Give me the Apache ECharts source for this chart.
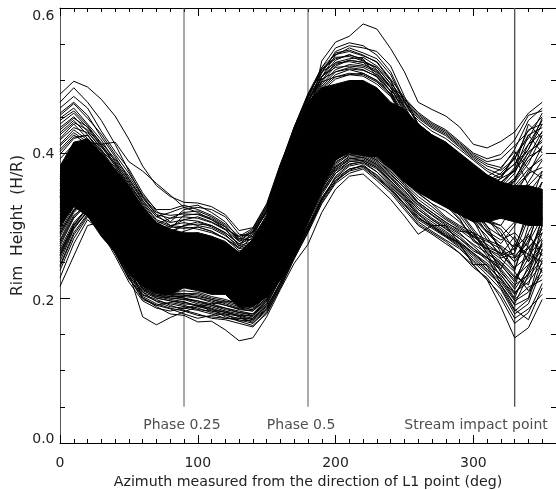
<!DOCTYPE html>
<html><head><meta charset="utf-8">
<style>html,body{margin:0;padding:0;background:#fff;overflow:hidden}#c{width:556px;height:490px}</style>
<script src="https://cdn.jsdelivr.net/npm/echarts@6/dist/echarts.min.js"></script>
</head><body><div id="c"></div>
<script>
// Azimuth samples (deg)
const azimuth = [0,10,20,30,40,50,60,70,80,90,100,110,120,130,140,150,160,170,180,190,200,210,220,230,240,250,260,270,280,290,300,310,320,330,340,350];
// Upper and lower edge of the region where the curves merge into solid black
const denseUpper = [.382,.415,.419,.400,.378,.354,.326,.304,.295,.290,.290,.285,.277,.263,.281,.310,.370,.425,.470,.490,.495,.500,.500,.490,.470,.460,.440,.425,.415,.400,.385,.370,.360,.355,.355,.350];
const denseLower = [.300,.326,.313,.285,.263,.235,.216,.207,.205,.214,.210,.205,.205,.187,.188,.202,.225,.257,.304,.350,.391,.400,.396,.395,.378,.360,.346,.335,.325,.315,.305,.305,.310,.305,.300,.300];
// Individually readable curves
const curves = [
[.481,.499,.491,.474,.451,.419,.382,.355,.340,.332,.331,.326,.315,.293,.297,.330,.385,.430,.478,.515,.530,.535,.530,.505,.480,.450,.432,.420,.405,.390,.365,.352,.350,.365,.395,.430],
[.380,.398,.405,.388,.362,.336,.308,.285,.272,.265,.262,.258,.250,.240,.245,.270,.318,.372,.440,.527,.553,.561,.578,.571,.544,.512,.470,.460,.451,.436,.412,.407,.416,.429,.455,.470],
[.410,.428,.415,.412,.415,.388,.375,.358,.342,.325,.318,.308,.295,.285,.290,.318,.372,.425,.470,.505,.522,.528,.525,.510,.485,.445,.420,.410,.398,.380,.362,.352,.350,.348,.370,.410],
[.462,.478,.462,.430,.402,.378,.345,.320,.305,.322,.325,.322,.312,.288,.285,.322,.378,.428,.472,.510,.540,.548,.545,.540,.520,.478,.440,.425,.410,.395,.372,.360,.368,.385,.405,.448],
[.455,.470,.452,.422,.395,.365,.335,.312,.318,.325,.328,.318,.305,.282,.280,.315,.372,.420,.465,.505,.535,.545,.538,.530,.508,.470,.440,.422,.412,.392,.370,.362,.372,.392,.432,.440],
[.448,.462,.440,.418,.388,.360,.328,.302,.310,.318,.320,.312,.300,.278,.285,.310,.365,.418,.462,.500,.525,.530,.532,.520,.500,.465,.432,.418,.405,.388,.365,.355,.365,.398,.420,.455],
[.440,.455,.435,.410,.382,.352,.322,.298,.298,.308,.312,.305,.295,.272,.278,.305,.360,.412,.458,.498,.520,.528,.525,.518,.495,.460,.428,.415,.402,.385,.362,.352,.358,.380,.440,.420],
[.435,.450,.430,.405,.375,.348,.318,.295,.290,.300,.305,.298,.288,.268,.272,.302,.355,.408,.455,.495,.515,.522,.520,.512,.490,.458,.425,.412,.400,.382,.360,.350,.352,.372,.412,.445],
[.428,.445,.425,.402,.372,.345,.315,.290,.285,.292,.298,.292,.282,.265,.268,.298,.352,.405,.452,.492,.512,.518,.515,.505,.485,.452,.425,.410,.398,.380,.358,.348,.348,.365,.395,.405],
[.420,.440,.420,.398,.368,.342,.312,.288,.282,.286,.290,.285,.278,.262,.265,.295,.350,.402,.450,.490,.508,.515,.510,.500,.482,.450,.422,.408,.396,.378,.356,.346,.345,.360,.385,.425],
[.412,.432,.418,.395,.365,.340,.310,.285,.280,.282,.285,.280,.272,.258,.262,.292,.345,.400,.448,.488,.505,.510,.508,.498,.480,.448,.420,.405,.392,.375,.354,.344,.342,.355,.378,.392],
[.405,.425,.412,.392,.362,.338,.308,.282,.278,.280,.282,.278,.270,.255,.258,.288,.342,.398,.445,.485,.502,.508,.506,.495,.478,.445,.418,.402,.390,.372,.352,.342,.340,.352,.372,.380],
[.470,.490,.470,.445,.412,.375,.340,.315,.300,.298,.295,.290,.282,.270,.275,.310,.368,.422,.468,.512,.538,.542,.535,.525,.500,.462,.435,.420,.408,.390,.368,.358,.360,.375,.425,.435],
[.398,.420,.425,.398,.368,.340,.312,.288,.292,.300,.302,.300,.290,.275,.282,.312,.362,.415,.460,.505,.528,.536,.528,.515,.490,.455,.430,.415,.402,.385,.362,.352,.350,.362,.402,.415],
[.445,.458,.438,.412,.385,.355,.325,.300,.296,.314,.316,.310,.298,.280,.292,.325,.380,.432,.476,.518,.545,.552,.548,.535,.512,.472,.438,.425,.415,.398,.375,.368,.378,.405,.445,.462],
[.216,.258,.300,.305,.282,.235,.174,.163,.173,.181,.188,.192,.195,.195,.200,.215,.240,.275,.315,.355,.390,.405,.410,.405,.385,.365,.345,.330,.320,.305,.285,.270,.262,.255,.270,.290],
[.265,.300,.325,.310,.285,.245,.200,.188,.178,.176,.167,.168,.156,.141,.145,.174,.212,.248,.274,.318,.350,.368,.371,.354,.336,.313,.288,.300,.300,.275,.246,.225,.188,.145,.159,.198],
[.250,.295,.320,.305,.270,.235,.205,.198,.190,.183,.178,.172,.170,.165,.160,.180,.215,.255,.290,.330,.358,.372,.378,.362,.345,.322,.300,.288,.275,.262,.245,.225,.205,.172,.185,.205],
[.262,.302,.322,.300,.268,.238,.208,.195,.188,.186,.183,.178,.172,.172,.168,.185,.222,.262,.298,.338,.365,.378,.382,.370,.352,.330,.305,.292,.280,.268,.250,.232,.212,.178,.192,.242],
[.272,.310,.330,.308,.278,.242,.212,.200,.196,.192,.190,.182,.178,.175,.170,.190,.228,.268,.305,.345,.372,.385,.388,.378,.358,.338,.312,.298,.285,.272,.255,.238,.218,.190,.200,.268],
[.280,.318,.335,.312,.282,.248,.216,.204,.200,.198,.192,.188,.182,.178,.174,.195,.232,.272,.312,.352,.378,.390,.392,.382,.362,.342,.318,.305,.292,.278,.262,.245,.225,.198,.215,.225],
[.288,.322,.338,.316,.285,.252,.220,.208,.204,.200,.196,.192,.186,.182,.178,.198,.236,.276,.318,.356,.382,.394,.396,.386,.368,.348,.325,.310,.298,.285,.268,.252,.232,.206,.228,.255],
[.292,.326,.340,.320,.288,.256,.224,.210,.205,.204,.200,.196,.190,.185,.182,.200,.240,.282,.322,.362,.388,.398,.400,.390,.372,.352,.330,.315,.302,.290,.272,.255,.238,.212,.240,.290],
[.295,.330,.342,.322,.290,.258,.226,.212,.208,.206,.204,.198,.194,.188,.184,.204,.244,.286,.328,.366,.392,.402,.404,.394,.375,.355,.332,.318,.305,.292,.290,.262,.246,.222,.255,.310],
[.275,.312,.332,.310,.280,.245,.214,.202,.198,.195,.188,.184,.180,.176,.172,.192,.230,.270,.308,.348,.375,.388,.390,.380,.360,.340,.315,.300,.288,.275,.246,.246,.226,.205,.235,.275],
[.258,.298,.318,.298,.266,.232,.202,.192,.186,.182,.176,.174,.172,.170,.165,.182,.218,.258,.295,.335,.362,.375,.380,.365,.348,.325,.302,.290,.278,.262,.242,.228,.200,.165,.180,.220],
[.285,.320,.336,.314,.284,.250,.218,.206,.202,.200,.194,.190,.184,.180,.176,.196,.234,.274,.314,.354,.380,.392,.394,.384,.365,.345,.322,.308,.295,.282,.265,.255,.245,.225,.262,.300],
[.330,.360,.370,.350,.320,.290,.255,.240,.235,.235,.235,.230,.225,.215,.215,.240,.285,.330,.375,.415,.445,.455,.455,.445,.425,.400,.375,.360,.350,.330,.310,.290,.270,.250,.280,.330],
[.340,.370,.380,.360,.330,.298,.262,.245,.240,.240,.240,.235,.230,.220,.220,.245,.290,.338,.380,.420,.450,.462,.460,.450,.430,.405,.380,.365,.352,.335,.318,.300,.262,.238,.300,.345],
[.320,.352,.365,.345,.315,.285,.250,.235,.230,.230,.228,.224,.218,.210,.210,.235,.280,.325,.370,.410,.440,.450,.448,.438,.418,.395,.370,.355,.345,.325,.305,.285,.255,.262,.310,.360],
[.325,.355,.368,.348,.318,.288,.252,.238,.232,.232,.232,.228,.222,.212,.212,.238,.282,.328,.372,.412,.442,.452,.450,.440,.420,.398,.372,.358,.348,.328,.308,.270,.240,.275,.260,.250],
[.335,.365,.375,.355,.325,.295,.258,.242,.238,.236,.236,.232,.226,.216,.216,.242,.288,.332,.378,.418,.448,.458,.456,.446,.426,.402,.378,.362,.350,.332,.312,.292,.280,.290,.270,.235],
[.345,.375,.385,.365,.335,.302,.265,.248,.242,.242,.242,.238,.232,.222,.224,.248,.294,.342,.385,.425,.455,.465,.465,.455,.435,.410,.385,.370,.358,.340,.320,.305,.295,.265,.325,.375],
[.350,.380,.388,.368,.338,.305,.268,.250,.245,.245,.245,.240,.235,.225,.226,.252,.298,.345,.390,.430,.460,.470,.468,.458,.438,.412,.388,.372,.360,.342,.322,.308,.300,.280,.250,.310],
[.355,.385,.392,.372,.342,.310,.272,.255,.250,.248,.248,.245,.238,.228,.230,.256,.302,.350,.395,.435,.465,.474,.472,.462,.442,.416,.392,.376,.364,.346,.326,.298,.285,.305,.340,.320],
[.360,.388,.395,.375,.345,.312,.275,.258,.252,.252,.250,.248,.242,.232,.234,.258,.305,.352,.398,.438,.468,.478,.476,.466,.446,.420,.395,.380,.368,.350,.330,.312,.290,.255,.285,.265],
[.315,.348,.360,.340,.310,.280,.245,.232,.225,.225,.225,.220,.215,.205,.206,.232,.276,.320,.365,.405,.435,.445,.445,.435,.415,.390,.365,.350,.340,.320,.295,.272,.235,.215,.275,.340],
[.310,.345,.358,.338,.308,.276,.242,.230,.222,.222,.222,.218,.212,.202,.204,.228,.272,.318,.362,.402,.432,.442,.440,.430,.412,.388,.362,.348,.336,.318,.292,.265,.250,.230,.218,.280],
[.305,.340,.352,.332,.302,.272,.238,.226,.220,.218,.218,.215,.208,.198,.200,.225,.268,.312,.358,.398,.428,.438,.436,.426,.408,.384,.358,.345,.332,.314,.288,.262,.228,.200,.245,.265],
[.365,.392,.398,.378,.348,.315,.280,.262,.256,.255,.254,.250,.244,.234,.238,.262,.308,.356,.402,.442,.472,.482,.480,.470,.450,.425,.400,.385,.372,.358,.342,.338,.345,.362,.390,.408],
[.370,.395,.400,.380,.352,.318,.282,.265,.258,.258,.256,.252,.246,.236,.240,.265,.312,.360,.405,.445,.475,.486,.484,.474,.454,.428,.402,.388,.378,.362,.345,.342,.355,.378,.405,.440],
[.375,.398,.402,.384,.355,.322,.285,.268,.262,.260,.258,.254,.248,.238,.242,.268,.315,.364,.408,.448,.478,.490,.488,.478,.458,.432,.405,.392,.382,.366,.350,.348,.365,.395,.355,.375],
[.368,.390,.396,.376,.346,.314,.278,.260,.255,.254,.252,.248,.242,.232,.236,.260,.306,.354,.400,.440,.470,.480,.478,.468,.448,.422,.398,.382,.370,.355,.338,.335,.352,.340,.375,.398],
[.300,.335,.350,.330,.298,.268,.235,.224,.218,.216,.214,.210,.206,.196,.198,.222,.264,.308,.352,.392,.422,.432,.430,.420,.402,.378,.352,.340,.328,.308,.282,.258,.218,.192,.232,.300],
[.302,.338,.350,.331,.300,.270,.236,.225,.219,.217,.216,.212,.207,.197,.199,.224,.266,.310,.354,.394,.424,.434,.432,.422,.404,.380,.354,.342,.330,.310,.278,.268,.258,.268,.288,.258],
[.392,.412,.420,.402,.380,.356,.330,.306,.298,.296,.298,.292,.282,.268,.284,.314,.374,.428,.474,.498,.505,.508,.510,.500,.482,.465,.445,.430,.420,.405,.390,.375,.365,.375,.400,.418],
[.402,.422,.424,.404,.384,.358,.332,.308,.300,.304,.300,.296,.286,.272,.288,.318,.376,.430,.476,.502,.512,.516,.514,.506,.486,.468,.448,.434,.424,.408,.392,.378,.370,.385,.412,.428],
[.418,.435,.428,.408,.386,.362,.334,.312,.304,.308,.306,.300,.290,.274,.290,.320,.378,.432,.478,.506,.518,.520,.518,.508,.490,.470,.450,.436,.426,.410,.394,.382,.376,.392,.425,.400],
[.425,.442,.432,.410,.390,.364,.338,.315,.310,.312,.310,.304,.294,.278,.292,.322,.380,.434,.480,.512,.524,.526,.522,.514,.492,.472,.452,.438,.428,.412,.396,.385,.380,.402,.378,.365],
[.432,.448,.436,.414,.392,.368,.340,.318,.314,.316,.315,.308,.298,.282,.294,.326,.382,.436,.480,.516,.532,.533,.527,.518,.496,.474,.454,.440,.430,.414,.398,.388,.392,.410,.430,.450],
[.452,.468,.448,.426,.398,.372,.342,.322,.322,.328,.322,.314,.302,.285,.296,.328,.384,.436,.482,.518,.536,.540,.534,.526,.502,.476,.456,.442,.432,.416,.400,.392,.398,.418,.452,.458],
[.238,.282,.312,.296,.262,.226,.204,.196,.192,.188,.186,.180,.176,.172,.172,.188,.222,.258,.296,.338,.366,.382,.386,.374,.356,.336,.316,.302,.290,.276,.262,.248,.232,.208,.222,.248],
[.245,.290,.316,.298,.266,.230,.208,.200,.196,.194,.190,.186,.180,.176,.176,.192,.226,.262,.300,.342,.372,.388,.390,.380,.362,.342,.322,.308,.296,.282,.268,.256,.240,.218,.232,.262],
[.255,.296,.320,.300,.270,.234,.210,.202,.200,.198,.196,.190,.186,.180,.178,.196,.230,.266,.304,.346,.376,.392,.394,.384,.366,.348,.328,.314,.300,.288,.274,.262,.248,.228,.246,.272],
[.268,.304,.324,.304,.274,.240,.212,.204,.202,.202,.200,.194,.190,.184,.182,.198,.232,.270,.308,.350,.380,.396,.398,.388,.370,.352,.332,.318,.304,.294,.280,.268,.254,.236,.210,.238],
[.278,.314,.328,.306,.278,.244,.214,.206,.204,.204,.202,.198,.192,.186,.184,.200,.236,.274,.310,.354,.384,.398,.400,.390,.374,.356,.336,.322,.308,.296,.284,.274,.260,.242,.258,.282],
[.290,.322,.332,.310,.282,.246,.218,.208,.206,.206,.206,.200,.196,.190,.186,.202,.238,.278,.314,.358,.386,.400,.402,.392,.378,.358,.340,.326,.310,.298,.286,.278,.268,.250,.268,.295],
[.298,.328,.336,.314,.284,.250,.220,.210,.208,.210,.208,.202,.198,.192,.188,.204,.240,.280,.316,.360,.390,.402,.404,.396,.380,.360,.344,.330,.312,.300,.290,.280,.272,.258,.276,.312],
[.260,.300,.318,.296,.264,.228,.200,.190,.185,.178,.172,.176,.178,.168,.162,.178,.214,.254,.292,.332,.360,.376,.384,.368,.350,.328,.308,.296,.284,.270,.252,.236,.218,.184,.170,.214],
[.228,.275,.308,.292,.258,.222,.196,.186,.182,.186,.190,.185,.174,.168,.170,.186,.220,.260,.298,.336,.362,.378,.382,.366,.350,.330,.310,.298,.286,.274,.258,.240,.222,.196,.208,.232],
[.243,.287,.314,.297,.262,.228,.198,.190,.194,.190,.184,.182,.182,.174,.166,.184,.218,.256,.294,.334,.368,.384,.388,.374,.354,.334,.310,.300,.286,.276,.260,.244,.214,.182,.198,.252],
[.340,.370,.380,.360,.330,.300,.270,.250,.240,.240,.240,.230,.230,.220,.220,.250,.290,.340,.380,.420,.450,.460,.460,.450,.430,.410,.380,.370,.360,.340,.330,.310,.285,.270,.315,.350],
[.338,.366,.376,.356,.328,.296,.266,.248,.238,.238,.238,.232,.228,.218,.218,.246,.292,.336,.382,.422,.452,.464,.462,.452,.432,.408,.382,.368,.356,.338,.322,.295,.268,.240,.290,.325],
[.342,.372,.382,.362,.332,.302,.268,.252,.242,.244,.244,.236,.232,.224,.222,.250,.296,.340,.386,.426,.456,.468,.466,.456,.436,.412,.386,.372,.362,.344,.318,.290,.275,.300,.330,.360],
[.328,.358,.372,.352,.322,.292,.256,.240,.234,.234,.234,.228,.224,.214,.214,.240,.286,.330,.376,.416,.446,.456,.454,.444,.424,.400,.376,.360,.352,.336,.310,.280,.260,.285,.250,.275],
[.348,.378,.390,.370,.340,.308,.270,.254,.248,.248,.246,.242,.236,.226,.228,.254,.300,.348,.392,.432,.462,.472,.470,.460,.440,.414,.390,.374,.362,.344,.325,.305,.300,.330,.360,.390],
[.358,.386,.394,.374,.344,.312,.274,.256,.250,.250,.250,.246,.240,.230,.232,.258,.304,.352,.396,.436,.466,.476,.474,.464,.444,.418,.394,.378,.366,.348,.330,.310,.310,.320,.345,.370]
];
// Reference azimuths and their captions
const markerAzimuths = [90,180,330];
const markerTop = .6, markerBottom = .05;
const captions = [["Phase 0.25",88.5,.024],["Phase 0.5",175,.024],["Stream impact point",302,.024]];
const xMajorTicks = [0,100,200,300];
const xMinorTicks = [0,10,20,30,40,50,60,70,80,90,100,110,120,130,140,150,160,170,180,190,200,210,220,230,240,250,260,270,280,290,300,310,320,330,340,350];
const yMajorTicks = [.2,.4];
const yMinorTicks = [.05,.1,.15,.25,.3,.35,.45,.5,.55];
const yLabelText = ["0.0","0.2","0.4","0.6"];
const yLabelAnchors = [.0045,.196,.3975,.589];

const font = 'DejaVu Sans', ink = '#222';
const chart = echarts.init(document.getElementById('c'), null, {renderer:'canvas'});
const lineSer = (rows, extra) => Object.assign({type:'line', data:rows, symbol:'none', silent:true, animation:false, lineStyle:{color:'#000',width:1}}, extra||{});
const series = [];
markerAzimuths.forEach(a => series.push(lineSer([[a,markerBottom],[a,markerTop]], {z:1, lineStyle:{color:'#555',width:a===330?1.4:1}})));
// The solid black core, drawn as one polygon through the axis scales
series.push({type:'custom', silent:true, z:2, clip:true, coordinateSystem:'cartesian2d',
  data:azimuth.map((a,i)=>[a,denseLower[i],denseUpper[i]]), encode:{x:0,y:[1,2]},
  renderItem:(params,api)=>{
    if(params.dataIndex!==0) return null;
    const pts = azimuth.map((a,i)=>api.coord([a,denseUpper[i]]))
      .concat(azimuth.map((a,i)=>api.coord([a,denseLower[i]])).reverse());
    return {type:'polygon', shape:{points:pts}, style:{fill:'#000',stroke:'#000',lineWidth:1}};
  }});
curves.forEach(c => series.push(lineSer(azimuth.map((a,i)=>[a,c[i]]), {z:3})));
series.push({type:'scatter', silent:true, symbolSize:0, z:4, data:captions.map(c=>({value:[c[1],c[2]], name:c[0]})),
  label:{show:true, position:'inside', formatter:p=>p.name, fontFamily:font, fontSize:14, color:ink}});

const black = {color:'#000',width:1};
const xBase = {type:'value',min:0,max:360,interval:100,splitLine:{show:false},axisLabel:{show:false}};
const yBase = {type:'value',min:0,max:.6,interval:.2,splitLine:{show:false},axisLabel:{show:false}};
const xTick = (pos,vals,len,line) => Object.assign({},xBase,{position:pos,axisLine:{show:line,onZero:false,lineStyle:black},axisTick:{show:true,inside:true,length:len,lineStyle:black,customValues:vals}});
const yTick = (pos,vals,len,line) => Object.assign({},yBase,{position:pos,axisLine:{show:line,onZero:false,lineStyle:pos==='left'?{color:'#555',width:1}:black},axisTick:{show:true,inside:true,length:len,lineStyle:black,customValues:vals}});
chart.setOption({
  animation:false, backgroundColor:'#fff',
  grid:{left:60, top:8, width:496, height:435, outerBoundsMode:'none'},
  xAxis:[
   Object.assign(xTick('bottom',xMajorTicks,8,true),{
    axisLabel:{show:true,customValues:xMajorTicks,margin:13,fontFamily:font,fontSize:14,color:ink,formatter:v=>String(v)},
    name:'Azimuth measured from the direction of L1 point (deg)',nameLocation:'middle',nameGap:32,
    nameTextStyle:{fontFamily:font,fontSize:14.2,color:ink}}),
   xTick('top',xMajorTicks,8,true), xTick('bottom',xMinorTicks,4,false), xTick('top',xMinorTicks,4,false)
  ],
  yAxis:[
   Object.assign(yTick('left',yMajorTicks,10,true),{
    axisLabel:{show:true,customValues:yLabelAnchors,margin:5.5,fontFamily:font,fontSize:14,color:ink,
      formatter:v=>yLabelText[Math.round(v/.2)]},
    name:'Rim  Height  (H/R)',nameLocation:'middle',nameGap:34,nameMoveOverlap:false,nameTextStyle:{fontFamily:font,fontSize:15.5,color:ink}}),
   yTick('right',yMajorTicks,10,true), yTick('left',yMinorTicks,5,false), yTick('right',yMinorTicks,5,false)
  ],
  series
});
</script></body></html>
